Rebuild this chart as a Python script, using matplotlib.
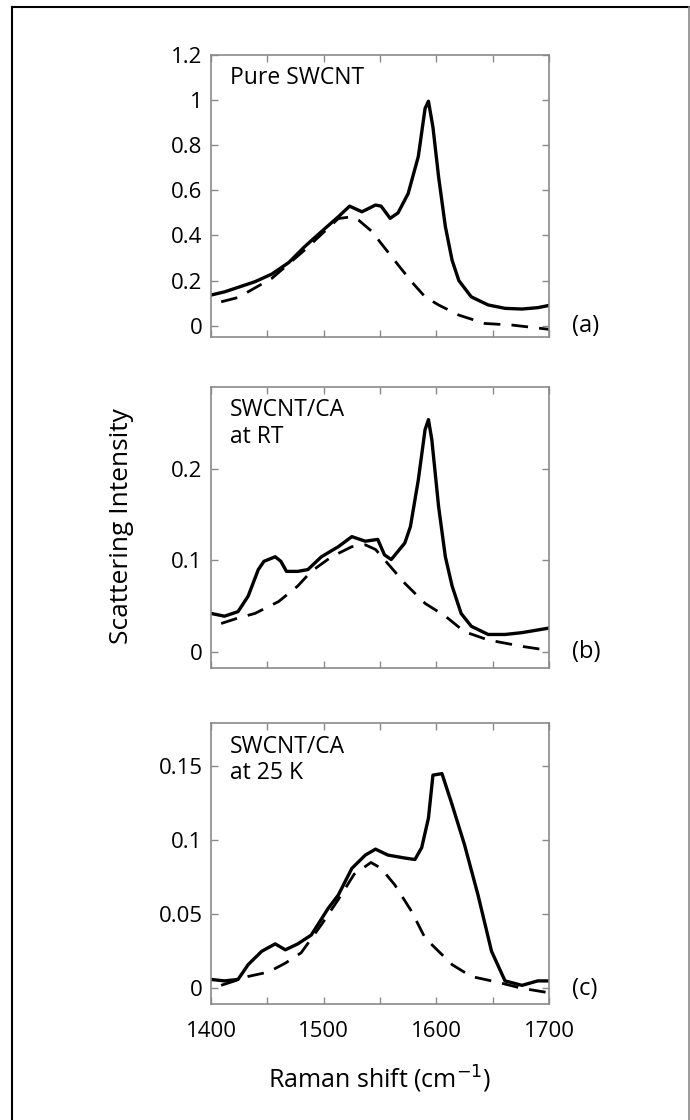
import numpy as np
import matplotlib
matplotlib.use("Agg")
from matplotlib import pyplot as plt
from matplotlib.lines import Line2D

plt.rcParams['font.family'] = ['Open Sans', 'DejaVu Sans']

# panel (a) pure SWCNT
xa = [1400, 1412, 1424, 1439, 1454, 1469, 1483, 1498, 1513, 1523, 1534, 1546, 1551,
      1559, 1566, 1575, 1584, 1590, 1593, 1597, 1602, 1608, 1614, 1620, 1631, 1646,
      1661, 1676, 1690, 1700]
ya = [0.136, 0.15, 0.17, 0.195, 0.229, 0.28, 0.35, 0.417, 0.483, 0.53, 0.505, 0.535, 0.53,
      0.476, 0.50, 0.586, 0.75, 0.963, 0.995, 0.88, 0.66, 0.44, 0.29, 0.20, 0.128, 0.092,
      0.077, 0.074, 0.08, 0.09]
xa_fit = [1409, 1424, 1454, 1483, 1513, 1525, 1531, 1543, 1551, 1566, 1578, 1590, 1602,
          1620, 1643, 1667, 1700]
ya_fit = [0.106, 0.125, 0.21, 0.335, 0.475, 0.483, 0.468, 0.417, 0.365, 0.27, 0.195,
          0.128, 0.092, 0.047, 0.01, 0.003, -0.016]

# panel (b) SWCNT/CA at RT
xb = [1400, 1412, 1424, 1433, 1442, 1447, 1457, 1462, 1467, 1477, 1486, 1498, 1513,
      1525, 1537, 1548, 1554, 1560, 1572, 1577, 1584, 1590, 1593, 1596, 1602, 1608,
      1614, 1622, 1631, 1646, 1661, 1676, 1700]
yb = [0.042, 0.039, 0.044, 0.061, 0.09, 0.099, 0.104, 0.099, 0.088, 0.088, 0.09, 0.104,
      0.115, 0.126, 0.121, 0.123, 0.106, 0.101, 0.119, 0.137, 0.188, 0.243, 0.254, 0.232,
      0.159, 0.104, 0.072, 0.042, 0.028, 0.019, 0.019, 0.021, 0.026]
xb_fit = [1409, 1424, 1439, 1460, 1477, 1489, 1507, 1525, 1537, 1546, 1558, 1572, 1590,
          1608, 1625, 1646, 1676, 1700]
yb_fit = [0.031, 0.037, 0.042, 0.055, 0.072, 0.088, 0.104, 0.115, 0.117, 0.112, 0.095,
          0.075, 0.053, 0.039, 0.022, 0.013, 0.006, 0.0015]

# panel (c) SWCNT/CA at 25 K
xc = [1400, 1412, 1424, 1433, 1445, 1457, 1466, 1477, 1489, 1504, 1513, 1525, 1537,
      1546, 1557, 1572, 1581, 1587, 1593, 1597, 1605, 1614, 1625, 1637, 1649, 1661,
      1676, 1690, 1700]
yc = [0.006, 0.005, 0.006, 0.016, 0.025, 0.030, 0.026, 0.030, 0.036, 0.054, 0.063,
      0.081, 0.090, 0.094, 0.090, 0.088, 0.087, 0.095, 0.115, 0.144, 0.145, 0.124,
      0.097, 0.063, 0.025, 0.005, 0.002, 0.005, 0.005]
xc_fit = [1409, 1433, 1451, 1466, 1480, 1498, 1513, 1527, 1542, 1551, 1563, 1578, 1590,
          1602, 1614, 1631, 1655, 1676, 1700]
yc_fit = [0.002, 0.008, 0.011, 0.017, 0.024, 0.043, 0.060, 0.077, 0.085, 0.081, 0.070,
          0.052, 0.034, 0.025, 0.016, 0.008, 0.004, 0.0, -0.003]

panels = [
    (xa, ya, xa_fit, ya_fit, (-0.05, 1.2), [0, 0.2, 0.4, 0.6, 0.8, 1, 1.2],
     ['0', '0.2', '0.4', '0.6', '0.8', '1', '1.2'], 'Pure SWCNT', '(a)'),
    (xb, yb, xb_fit, yb_fit, (-0.018, 0.29), [0, 0.1, 0.2],
     ['0', '0.1', '0.2'], 'SWCNT/CA\nat RT', '(b)'),
    (xc, yc, xc_fit, yc_fit, (-0.0106, 0.179), [0, 0.05, 0.1, 0.15],
     ['0', '0.05', '0.1', '0.15'], 'SWCNT/CA\nat 25 K', '(c)'),
]
# axes boxes in pixels (top, bottom)
boxes = [(55, 337), (386.7, 668.3), (723.3, 1004)]

W, H = 690, 1120
fig = plt.figure(figsize=(W / 100, H / 100), dpi=100)
gray = '#8a8a8a'

for (x, y, xf, yf, ylim, yt, ytl, name, tag), (top, bot) in zip(panels, boxes):
    ax = fig.add_axes([211 / W, 1 - bot / H, 338 / W, (bot - top) / H])
    ax.plot(x, y, color='black', lw=2.4)
    ax.plot(xf, yf, color='black', lw=2.0, dashes=(6, 4))
    ax.set_xlim(1400, 1700)
    ax.set_ylim(*ylim)
    ax.set_yticks(yt)
    ax.set_yticklabels(ytl)
    ax.set_xticks([1400, 1500, 1600, 1700])
    ax.set_xticks([1450, 1550, 1650], minor=True)
    for s in ax.spines.values():
        s.set_color(gray)
        s.set_linewidth(1.2)
    ax.tick_params(which='both', direction='in', top=True, right=True,
                   color=gray, width=1.0, length=5, labelsize=16, pad=6)
    ax.tick_params(axis='x', labelbottom=False)
    ax.text(0.056, 0.96, name, transform=ax.transAxes, fontsize=16.5,
            va='top', ha='left', linespacing=1.15)
    ax.text(1.068, -0.002 * (ylim[1] - ylim[0]), tag, transform=ax.get_yaxis_transform(),
            fontsize=17, va='center', ha='left')

ax.tick_params(axis='x', labelbottom=True, pad=12)
ax.set_xlabel('Raman shift (cm$^{-1}$)', fontsize=18, labelpad=16)
fig.text(121 / W, 1 - 526 / H, 'Scattering Intensity', rotation=90,
         fontsize=19, ha='center', va='center')

# frame lines around the figure
fig.add_artist(Line2D([11.5 / W, 11.5 / W], [0, 1 - 6.5 / H], color='black', lw=1.5,
                      transform=fig.transFigure))
fig.add_artist(Line2D([11.5 / W, 689 / W], [1 - 6.5 / H, 1 - 6.5 / H], color='black',
                      lw=1.5, transform=fig.transFigure))
fig.add_artist(Line2D([688.5 / W, 688.5 / W], [0, 1 - 6.5 / H], color=gray, lw=1.2,
                      transform=fig.transFigure))

fig.savefig('out.png', dpi=100)
